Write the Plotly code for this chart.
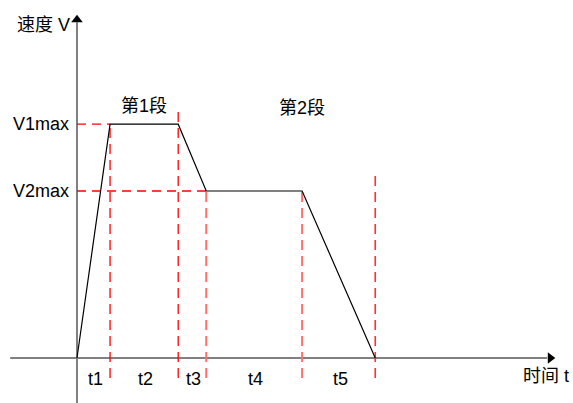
import numpy as np
import plotly.graph_objects as go

# durations of the five phases and the two speed levels
phases = ['t1', 't2', 't3', 't4', 't5']
durations = [0.99, 2.04, 0.84, 2.87, 2.19]
V1max = 7.0
V2max = 5.0
speeds = [0, V1max, V1max, V2max, V2max, 0]
segments = ['第1段', '第2段']

bounds = np.concatenate([[0], np.cumsum(durations)])

FONT = 'Arial, "Liberation Sans", "Noto Sans CJK SC", sans-serif'
AXIS_GREY = '#808080'

fig = go.Figure()

# axes with arrow heads
fig.add_trace(go.Scatter(x=[0, 0], y=[-1.4, 10.05], mode='lines',
                         line=dict(color=AXIS_GREY, width=2), hoverinfo='skip'))
fig.add_trace(go.Scatter(x=[-2.0, 14.08], y=[0, 0], mode='lines',
                         line=dict(color=AXIS_GREY, width=2), hoverinfo='skip'))
fig.add_trace(go.Scatter(x=[0], y=[10.13], mode='markers',
                         marker=dict(symbol='triangle-up', size=10, color='black'),
                         hoverinfo='skip'))
fig.add_trace(go.Scatter(x=[14.17], y=[0], mode='markers',
                         marker=dict(symbol='triangle-right', size=10, color='black'),
                         hoverinfo='skip'))

# horizontal guide lines to the speed levels
fig.add_trace(go.Scatter(x=[0, bounds[1]], y=[V1max, V1max], mode='lines',
                         line=dict(color='#ff0000', width=1.3, dash='9px,6px'),
                         hoverinfo='skip'))
fig.add_trace(go.Scatter(x=[0, bounds[3]], y=[V2max, V2max], mode='lines',
                         line=dict(color='#ff0000', width=1.3, dash='9px,6px'),
                         hoverinfo='skip'))

# vertical phase boundaries
dash_tops = [V1max, 7.5, V2max, V2max, 5.5]
dash_cols = ['#ff0000', '#ff0000', '#ff6f6f', '#ff6f6f', '#ff3030']
dash_w = [1.3, 1.3, 2, 2, 1.6]
for i in range(5):
    fig.add_trace(go.Scatter(x=[bounds[i + 1]] * 2, y=[-0.6, dash_tops[i]], mode='lines',
                             line=dict(color=dash_cols[i], width=dash_w[i], dash='10px,6px'),
                             hoverinfo='skip'))

# velocity profile
fig.add_trace(go.Scatter(x=bounds, y=speeds, mode='lines',
                         line=dict(color='black', width=1.2), hoverinfo='skip'))

ann = []
for i, p in enumerate(phases):
    ann.append(dict(x=(bounds[i] + bounds[i + 1]) / 2 + 0.05, y=-0.63, text=p,
                    xanchor='center', yanchor='middle'))
ann.append(dict(x=-0.17, y=V1max, text='V1max', xanchor='right', yanchor='middle'))
ann.append(dict(x=-0.17, y=V2max, text='V2max', xanchor='right', yanchor='middle'))
ann.append(dict(x=-0.15, y=9.97, text='速度 V', xanchor='right', yanchor='middle'))
ann.append(dict(x=14.79, y=-0.54, text='时间 t', xanchor='right', yanchor='middle'))
ann.append(dict(x=(bounds[1] + bounds[2]) / 2, y=7.55, text=segments[0],
                xanchor='center', yanchor='middle'))
ann.append(dict(x=6.74, y=7.49, text=segments[1], xanchor='center', yanchor='middle'))
for a in ann:
    a.update(showarrow=False, xref='x', yref='y', font=dict(size=18, color='black'))

fig.update_layout(width=573, height=403, autosize=False,
                  margin=dict(l=0, r=0, t=0, b=0),
                  paper_bgcolor='white', plot_bgcolor='white',
                  showlegend=False, font=dict(family=FONT),
                  annotations=ann,
                  xaxis=dict(range=[-2.305, 14.85], visible=False, fixedrange=True),
                  yaxis=dict(range=[-1.347, 10.719], visible=False, fixedrange=True))

# drop the default page margin so the figure sits at the window's corner
fig.write_html("out.html", config={'displayModeBar': False},
               post_script="document.body.style.margin='0';")
